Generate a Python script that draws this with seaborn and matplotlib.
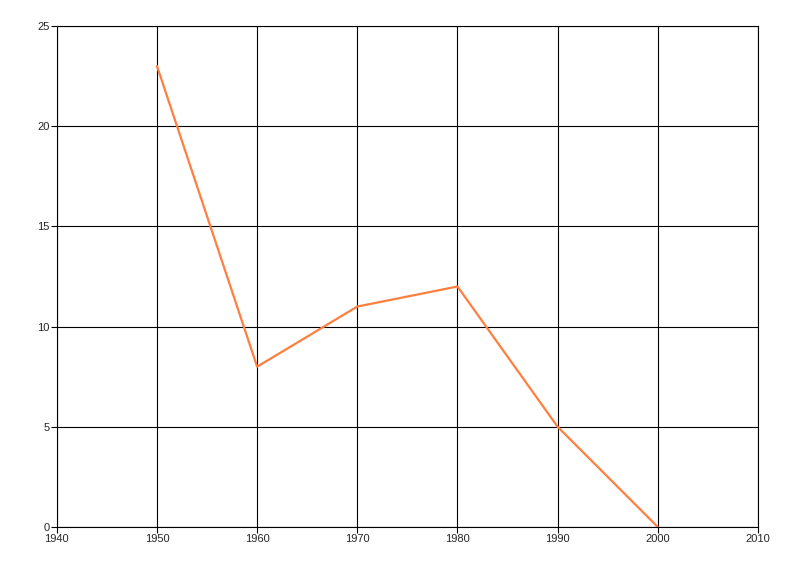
import matplotlib
matplotlib.use("Agg")
import matplotlib.pyplot as plt
import seaborn as sns
import pandas as pd

# Data
years = [1950, 1960, 1970, 1980, 1990, 2000]
values = [23, 8, 11, 12, 5, 0]

x_ticks = [1940, 1950, 1960, 1970, 1980, 1990, 2000, 2010]
y_ticks = [0, 5, 10, 15, 20, 25]

df = pd.DataFrame({"year": years, "value": values})

sns.set_style("white")
plt.rcParams["font.family"] = ["Liberation Sans", "DejaVu Sans"]

fig = plt.figure(figsize=(8, 5.76), dpi=100)
ax = fig.add_axes([0.071, 0.085, 0.8765, 0.87])

sns.lineplot(data=df, x="year", y="value", color="#FF7F3F", linewidth=1.6, ax=ax)

ax.set_xlim(1940, 2010)
ax.set_ylim(0, 25)
ax.set_xticks(x_ticks)
ax.set_yticks(y_ticks)
ax.grid(True, color="black", linewidth=0.8)
ax.set_axisbelow(True)

for side in ["top", "right", "left", "bottom"]:
    ax.spines[side].set_visible(True)
    ax.spines[side].set_color("black")
    ax.spines[side].set_linewidth(0.8)

ax.tick_params(axis="both", which="both", length=4, width=0.8, color="black",
               labelsize=8, pad=1, bottom=True, left=True)
ax.set_xlabel("")
ax.set_ylabel("")

fig.savefig("out.png", dpi=100)
